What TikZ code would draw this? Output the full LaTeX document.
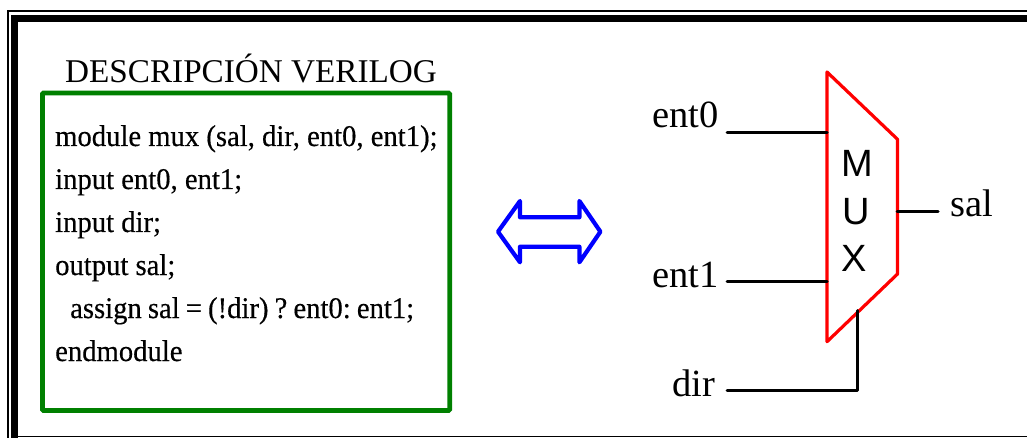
\documentclass[tikz,border=0pt]{standalone}
\usepackage{fontspec}
\setmainfont{Liberation Serif}
\newfontfamily\codefont[FakeBold=0.4,FakeStretch=0.955]{Liberation Serif}
\newfontfamily\muxfont{Liberation Sans}
\definecolor{boxgreen}{RGB}{0,128,0}
\frenchspacing
\tikzset{
  x=1pt,y=-1pt,
  frameline/.style={draw=black,line cap=butt},
  wire/.style={draw=black,line width=3pt,line cap=round,line join=round},
  label/.style={inner sep=0pt,anchor=base west,font=\fontsize{38.5}{38.5}\selectfont},
  code/.style={inner sep=0pt,anchor=base west,font=\codefont\fontsize{30}{30}\selectfont\frenchspacing},
  muxletter/.style={inner sep=0pt,anchor=base west,font=\muxfont\fontsize{38}{38}\selectfont},
}
\begin{document}
\begin{tikzpicture}
\useasboundingbox (0,0) rectangle (1027,438);
\fill[white] (0,0) rectangle (1027,438);
% frame
\draw[frameline,line width=2.2pt] (1027,11.1) -- (8,11.1) -- (8,438);
\draw[frameline,line width=7pt] (1027,18.2) -- (14.6,18.2) -- (14.6,438);
\draw[frameline,line width=1.2pt] (14.6,436.3) -- (1027,436.3);
% title and code
\node[label,font=\fontsize{33.2}{34}\selectfont] (title) at (65,82.3) {DESCRIPCIÓN VERILOG};
\node[draw=boxgreen,line width=4.6pt,rounded corners=1pt,minimum width=407.2pt,minimum height=317.5pt,inner sep=0pt,outer sep=0pt,anchor=north west] (codebox) at (42.5,93) {};
\node[code] (l1) at (55,146) {module mux (sal, dir, ent0, ent1);};
\node[code] (l2) at (55,189) {input ent0, ent1;};
\node[code] (l3) at (55,232) {input dir;};
\node[code] (l4) at (55,275) {output sal;};
\node[code] (l5) at (70,318) {\spaceskip=6.1pt assign sal = (!dir) ? ent0: ent1;};
\node[code] (l6) at (55,361) {endmodule};
% double arrow
\draw[blue,line width=4.2pt,line join=round] (498,231.7) -- (520,201) -- (520,217.3) -- (579.4,217.3) -- (579.4,201) -- (600.4,231.7) -- (579.4,262.3) -- (579.4,246.7) -- (520,246.7) -- (520,262.3) -- cycle;
% mux
\coordinate (e0in) at (827,132.3);
\coordinate (e1in) at (827,281.7);
\coordinate (dirin) at (857.5,310.7);
\coordinate (salout) at (897,211.7);
\coordinate (e0end) at (727,132.3);
\coordinate (e1end) at (727,281.7);
\coordinate (dirend) at (727,390.7);
\coordinate (salend) at (938,211.7);
\draw[red,line width=3.2pt,line join=round] (827,72) -- (897.5,139.3) -- (897.5,274) -- (827,341.7) -- cycle;
\node[muxletter] (m) at (841,176.7) {M};
\node[muxletter] (u) at (842,225) {U};
\node[muxletter] (x) at (841,271.7) {X};
\draw[wire] (e0end) -- (e0in);
\draw[wire] (e1end) -- (e1in);
\draw[wire] (dirend) -- (dirend -| dirin) -- (dirin);
\draw[wire] (salout) -- (salend);
\node[label] (ent0) at (652,128) {ent0};
\node[label] (ent1) at (652,287) {ent1};
\node[label] (dir) at (672,396) {dir};
\node[label] (sal) at (950,217) {sal};
\end{tikzpicture}
\end{document}
